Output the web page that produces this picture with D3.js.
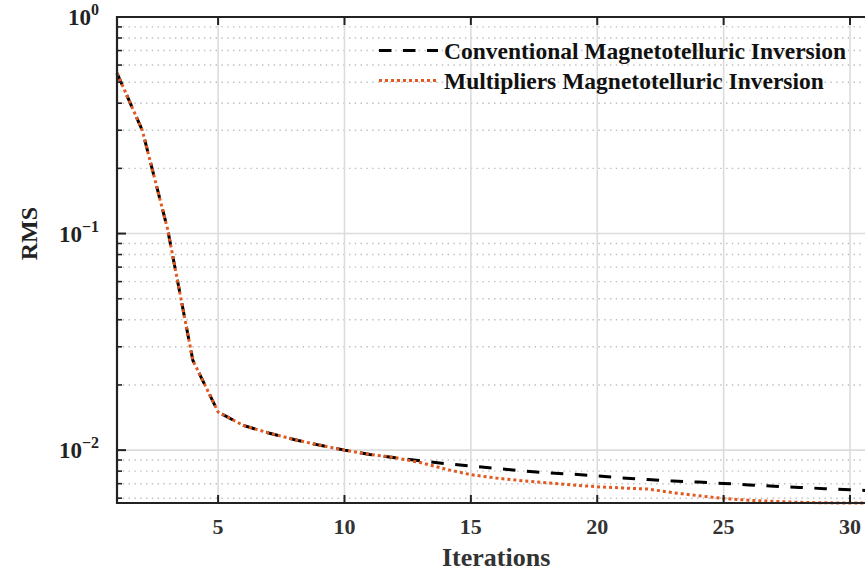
<!DOCTYPE html>
<html>
<head>
<meta charset="utf-8">
<script src="https://cdn.jsdelivr.net/npm/d3@7"></script>
<style>
  body { margin: 0; background: #fff; }
  svg { display: block; font-family: "Liberation Serif", "Times New Roman", serif; font-weight: bold; }
</style>
</head>
<body>
<div id="chart"></div>
<script>
// iterations and RMS values
var iterations = d3.range(1, 32);
var conventional = [0.55, 0.30, 0.105, 0.026, 0.0150, 0.0130, 0.0120, 0.0112, 0.01055, 0.0100,
  0.00955, 0.00923, 0.00892, 0.00866, 0.00844, 0.00823, 0.00803, 0.00786, 0.00775, 0.00760,
  0.00744, 0.00732, 0.00720, 0.00712, 0.00702, 0.00691, 0.00681, 0.00673, 0.00664, 0.00656, 0.00649];
var multipliers = [0.55, 0.30, 0.105, 0.026, 0.0150, 0.0130, 0.0120, 0.0112, 0.01055, 0.0100,
  0.00955, 0.00923, 0.00876, 0.00817, 0.00770, 0.00743, 0.00723, 0.00706, 0.00691, 0.00677,
  0.00669, 0.00661, 0.00636, 0.00616, 0.00598, 0.00587, 0.00580, 0.00574, 0.00571, 0.00570, 0.00570];
var seriesNames = ["Conventional Magnetotelluric Inversion", "Multipliers Magnetotelluric Inversion"];
var xTicks = [5, 10, 15, 20, 25, 30];
var yMajor = [1, 0.1, 0.01];
var yLabels = ["0", "\u22121", "\u22122"];

var W = 865, H = 571;
var mLeft = 117, mTop = 17, mBottom = 503;

var svg = d3.select("#chart").append("svg")
  .attr("width", W)
  .attr("height", H);

var x = d3.scaleLinear().domain([1, 31]).range([mLeft, mLeft + 30 * 25.276]);
var y = d3.scaleLog().domain([0.0057, 1]).range([mBottom, mTop]);

// minor values for the log axis
var yMinor = [];
[0.001, 0.01, 0.1].forEach(function (b) {
  for (var k = 2; k <= 9; k++) {
    var v = b * k;
    if (v >= 0.0057 && v < 1) yMinor.push(v);
  }
});

var grid = svg.append("g");
grid.selectAll(".minor").data(yMinor).enter().append("line")
  .attr("x1", mLeft).attr("x2", W)
  .attr("y1", function (d) { return y(d); })
  .attr("y2", function (d) { return y(d); })
  .attr("stroke", "#bdbdbd")
  .attr("stroke-width", 1.4)
  .attr("stroke-dasharray", "1.4,4.4");
grid.selectAll(".major").data([0.1, 0.01]).enter().append("line")
  .attr("x1", mLeft).attr("x2", W)
  .attr("y1", function (d) { return y(d); })
  .attr("y2", function (d) { return y(d); })
  .attr("stroke", "#dcdcdc")
  .attr("stroke-width", 1.6);
grid.selectAll(".vx").data(xTicks).enter().append("line")
  .attr("x1", function (d) { return x(d); })
  .attr("x2", function (d) { return x(d); })
  .attr("y1", mTop).attr("y2", mBottom)
  .attr("stroke", "#dcdcdc")
  .attr("stroke-width", 1.6);

// lines
var line = function (vals) {
  return d3.line()
    .x(function (d, i) { return x(iterations[i]); })
    .y(function (d) { return y(d); })(vals);
};

svg.append("path")
  .attr("d", line(conventional))
  .attr("fill", "none")
  .attr("stroke", "#000")
  .attr("stroke-width", 3)
  .attr("stroke-dasharray", "12.5,11.5");

svg.append("path")
  .attr("d", line(multipliers))
  .attr("fill", "none")
  .attr("stroke", "#e15a22")
  .attr("stroke-width", 3)
  .attr("stroke-dasharray", "3,3");

// axes
var axis = svg.append("g");
axis.append("line").attr("x1", mLeft).attr("x2", mLeft).attr("y1", mTop - 1).attr("y2", mBottom + 1)
  .attr("stroke", "#222").attr("stroke-width", 2.2);
axis.append("line").attr("x1", mLeft).attr("x2", W).attr("y1", mBottom).attr("y2", mBottom)
  .attr("stroke", "#222").attr("stroke-width", 2.2);
axis.append("line").attr("x1", mLeft).attr("x2", W).attr("y1", mTop).attr("y2", mTop)
  .attr("stroke", "#222").attr("stroke-width", 2.2);

// x ticks (bottom and top, inward)
xTicks.forEach(function (t) {
  axis.append("line").attr("x1", x(t)).attr("x2", x(t)).attr("y1", mBottom).attr("y2", mBottom - 8)
    .attr("stroke", "#222").attr("stroke-width", 2);
  axis.append("line").attr("x1", x(t)).attr("x2", x(t)).attr("y1", mTop).attr("y2", mTop + 8)
    .attr("stroke", "#222").attr("stroke-width", 2);
  axis.append("text")
    .attr("x", x(t)).attr("y", mBottom + 31)
    .attr("text-anchor", "middle")
    .attr("font-size", 22)
    .attr("fill", "#333")
    .text(t);
});

// y ticks
yMajor.forEach(function (v, i) {
  axis.append("line").attr("x1", mLeft).attr("x2", mLeft + 9).attr("y1", y(v)).attr("y2", y(v))
    .attr("stroke", "#222").attr("stroke-width", 2);
  var t = axis.append("text")
    .attr("x", 99).attr("y", y(v) + 8)
    .attr("text-anchor", "end")
    .attr("font-size", 23)
    .attr("fill", "#222");
  t.append("tspan").text("10");
  t.append("tspan").attr("dy", -10).attr("font-size", 16).text(yLabels[i]);
});
yMinor.forEach(function (v) {
  axis.append("line").attr("x1", mLeft).attr("x2", mLeft + 5).attr("y1", y(v)).attr("y2", y(v))
    .attr("stroke", "#222").attr("stroke-width", 1.6);
});

// axis titles
svg.append("text")
  .attr("x", x(16)).attr("y", 566)
  .attr("text-anchor", "middle")
  .attr("font-size", 26)
  .attr("fill", "#333")
  .text("Iterations");

svg.append("text")
  .attr("transform", "translate(37," + y(0.1) + ") rotate(-90)")
  .attr("text-anchor", "middle")
  .attr("font-size", 24)
  .attr("fill", "#222")
  .text("RMS");

// legend
var legend = svg.append("g");
var legStyles = [
  { color: "#000", dash: "12.5,11.5", y: 50.5 },
  { color: "#e15a22", dash: "3,3", y: 80.5 }
];
seriesNames.forEach(function (name, i) {
  var s = legStyles[i];
  legend.append("line")
    .attr("x1", 379).attr("x2", 438)
    .attr("y1", s.y).attr("y2", s.y)
    .attr("stroke", s.color)
    .attr("stroke-width", 3)
    .attr("stroke-dasharray", s.dash);
  legend.append("text")
    .attr("x", 444).attr("y", s.y + 8)
    .attr("font-size", 23.5)
    .attr("fill", "#111")
    .text(name);
});
</script>
</body>
</html>
